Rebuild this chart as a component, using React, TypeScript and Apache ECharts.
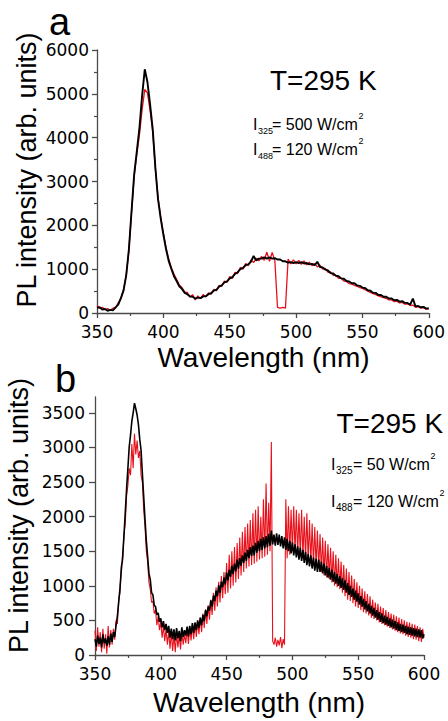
import React, { useEffect, useRef } from "react";
import * as echarts from "echarts";

// ---------- data ----------
// panel a: sampled every 2 nm
const wavelengthA: number[] = Array.from({ length: 126 }, (_, i) => 350 + 2 * i);
const blackA: number[] = [
  120, 130, 80, 90, 50, 70, 60, 130, 190, 340,
  510, 860, 1440, 2310, 3160, 3690, 4230, 4960, 5560, 5270,
  4760, 4190, 3310, 2590, 2160, 1790, 1460, 1190, 1010, 840,
  730, 610, 550, 460, 430, 380, 370, 330, 350, 340,
  380, 380, 430, 450, 510, 530, 600, 630, 700, 720,
  790, 820, 890, 930, 1000, 1030, 1090, 1110, 1170, 1300,
  1200, 1240, 1240, 1270, 1240, 1270, 1240, 1250, 1220, 1220,
  1180, 1180, 1150, 1160, 1140, 1160, 1140, 1160, 1130, 1140,
  1110, 1120, 1090, 1170, 1050, 1040, 990, 970, 910, 900,
  850, 840, 790, 780, 730, 720, 680, 680, 630, 620,
  580, 570, 520, 510, 460, 460, 410, 410, 370, 370,
  330, 330, 290, 300, 260, 270, 230, 230, 190, 330,
  150, 160, 130, 140, 100, 110,
];
const redA: number[] = [
  170, 110, 130, 80, 100, 60, 110, 120, 230, 330,
  540, 850, 1420, 2290, 3110, 3620, 4070, 4640, 5100, 5020,
  4620, 4130, 3280, 2630, 2190, 1830, 1490, 1240, 1040, 890,
  770, 640, 580, 480, 470, 360, 420, 300, 390, 330,
  420, 370, 460, 430, 540, 510, 630, 610, 730, 700,
  830, 790, 930, 900, 1040, 1000, 1130, 1080, 1210, 1150,
  1250, 1190, 1290, 1200, 1390, 1180, 1380, 1200, 130, 110,
  130, 110, 1230, 1120, 1210, 1120, 1200, 1110, 1190, 1100,
  1160, 1080, 1130, 1050, 1090, 1000, 1020, 930, 940, 860,
  860, 790, 790, 730, 720, 670, 660, 630, 610, 580,
  560, 530, 500, 470, 440, 420, 390, 370, 350, 330,
  300, 300, 260, 270, 230, 240, 200, 210, 170, 180,
  130, 150, 110, 120, 90, 90,
];

// panel b: sampled every 1 nm
const wavelengthB: number[] = Array.from({ length: 251 }, (_, i) => 350 + i);
const blackB: number[] = [
  230, 120, 280, 160, 250, 110, 300, 170, 240, 130,
  270, 150, 310, 190, 330, 260, 430, 560, 760, 970,
  1230, 1420, 1720, 2060, 2400, 2700, 3010, 3180, 3380, 3500,
  3640, 3560, 3470, 3330, 3120, 2960, 2620, 2290, 1960, 1650,
  1420, 1180, 1090, 900, 870, 720, 700, 580, 610, 480,
  530, 400, 490, 360, 450, 320, 420, 250, 380, 230,
  370, 210, 390, 240, 350, 200, 400, 260, 360, 280,
  410, 270, 420, 300, 460, 320, 470, 360, 500, 390,
  540, 430, 580, 490, 650, 560, 700, 640, 790, 700,
  860, 780, 930, 850, 1010, 900, 1060, 980, 1120, 1020,
  1190, 1080, 1230, 1130, 1290, 1170, 1320, 1210, 1380, 1250,
  1400, 1290, 1440, 1330, 1480, 1360, 1520, 1400, 1560, 1430,
  1580, 1440, 1620, 1480, 1650, 1500, 1680, 1520, 1700, 1540,
  1720, 1560, 1750, 1580, 1800, 1600, 1740, 1580, 1760, 1590,
  1740, 1570, 1720, 1540, 1700, 1520, 1680, 1500, 1650, 1470,
  1630, 1440, 1600, 1410, 1570, 1380, 1550, 1360, 1520, 1330,
  1490, 1300, 1460, 1280, 1440, 1250, 1410, 1220, 1390, 1200,
  1380, 1200, 1350, 1180, 1320, 1150, 1290, 1120, 1260, 1090,
  1230, 1060, 1200, 1030, 1170, 1000, 1140, 970, 1110, 940,
  1080, 900, 1040, 870, 1000, 840, 960, 800, 930, 770,
  890, 730, 850, 700, 810, 660, 780, 630, 740, 600,
  710, 570, 680, 540, 650, 510, 620, 480, 600, 460,
  570, 440, 550, 420, 530, 400, 510, 380, 490, 360,
  470, 350, 450, 330, 440, 320, 420, 300, 410, 290,
  400, 280, 390, 270, 380, 260, 370, 250, 360, 240,
  300,
];
const redB: number[] = [
  350, 60, 400, 120, 330, 40, 380, 90, 300, 20,
  420, 110, 360, 150, 380, 220, 500, 450, 800, 900,
  1300, 1350, 1750, 1900, 2300, 2450, 2700, 2600, 3050, 2700,
  3200, 2900, 3100, 2850, 2950, 2600, 2500, 2100, 1850, 1500,
  1350, 1050, 950, 760, 780, 600, 650, 430, 560, 360,
  480, 250, 420, 200, 380, 150, 340, 90, 330, 60,
  300, 40, 320, 110, 290, 80, 340, 150, 300, 170,
  380, 160, 400, 210, 430, 230, 460, 260, 490, 300,
  540, 330, 600, 390, 660, 450, 720, 510, 800, 580,
  900, 640, 980, 700, 1060, 760, 1140, 820, 1200, 880,
  1330, 900, 1450, 960, 1500, 1000, 1560, 1050, 1620, 1100,
  1700, 1150, 1780, 1200, 1850, 1250, 1900, 1280, 1950, 1300,
  2050, 1320, 2100, 1350, 2150, 1380, 2000, 1400, 2250, 1420,
  2480, 1450, 2200, 1500, 3080, 200, 150, 250, 120, 220,
  140, 260, 100, 230, 150, 2250, 1400, 2150, 1450, 2100,
  1500, 2150, 1480, 2100, 1450, 2050, 1420, 2100, 1400, 2000,
  1380, 2050, 1350, 1950, 1320, 1900, 1300, 1850, 1280, 1800,
  1250, 1750, 1200, 1700, 1150, 1650, 1120, 1600, 1100, 1550,
  1050, 1500, 1000, 1450, 980, 1400, 950, 1350, 900, 1300,
  850, 1250, 800, 1200, 780, 1150, 750, 1100, 700, 1050,
  680, 1000, 650, 960, 620, 920, 600, 880, 570, 850,
  540, 800, 520, 760, 500, 740, 470, 700, 450, 680,
  430, 650, 410, 620, 390, 600, 370, 580, 350, 560,
  330, 540, 310, 520, 300, 500, 280, 480, 260, 470,
  250, 450, 230, 440, 220, 420, 200, 400, 190, 380,
  250,
];

const xTicks: number[] = [350, 400, 450, 500, 550, 600];
const yTicksA: number[] = [0, 1000, 2000, 3000, 4000, 5000, 6000];
const yTicksB: number[] = [0, 500, 1000, 1500, 2000, 2500, 3000, 3500];

const pairs = (xs: number[], ys: number[]) => xs.map((x, i) => [x, ys[i]]);

export default function App() {
  const ref = useRef<HTMLDivElement>(null);

  useEffect(() => {
    if (!ref.current) return;
    const chart = echarts.init(ref.current, null, { renderer: "svg" });
    const axisColor = "#4a4a4a";
    const tickLabel = { fontFamily: "DejaVu Sans", fontSize: 17, color: "#000" };
    const RED = "#e8101a";
    const plain = (v: number) => String(v);

    const xAxis = (gridIndex: number) => ({
      type: "value",
      gridIndex,
      min: xTicks[0],
      max: xTicks[xTicks.length - 1],
      interval: 50,
      axisLine: { show: true, onZero: false, lineStyle: { color: axisColor, width: 1.3 } },
      axisTick: { show: true, length: 5, lineStyle: { color: axisColor, width: 1.3 } },
      minorTick: { show: true, splitNumber: 2, length: 3, lineStyle: { color: axisColor, width: 1.2 } },
      axisLabel: { ...tickLabel, margin: 10, formatter: plain },
      splitLine: { show: false },
    });

    const txt = (text: string, x: number, y: number, size: number, extra: any = {}) => ({
      type: "text",
      x,
      y,
      silent: true,
      ...(extra.rotation ? { rotation: extra.rotation } : {}),
      style: {
        text,
        fontFamily: extra.family || "Liberation Sans",
        fontSize: size,
        fill: "#000",
        textAlign: extra.align || "left",
        textVerticalAlign: "middle",
        align: extra.align || "left",
        verticalAlign: "middle",
      },
    });

    chart.setOption({
      animation: false,
      backgroundColor: "#fff",
      grid: [
        { left: 97, top: 50, width: 334, height: 263, containLabel: false },
        { left: 95, top: 397, width: 329, height: 258, containLabel: false },
      ],
      xAxis: [xAxis(0), xAxis(1)],
      yAxis: [
        {
          type: "value",
          gridIndex: 0,
          min: yTicksA[0],
          max: yTicksA[yTicksA.length - 1],
          interval: 1000,
          axisLine: { show: true, lineStyle: { color: axisColor, width: 1.3 } },
          axisTick: { show: true, length: 5, lineStyle: { color: axisColor, width: 1.3 } },
          minorTick: { show: true, splitNumber: 2, length: 3, lineStyle: { color: axisColor, width: 1.2 } },
          axisLabel: { ...tickLabel, margin: 8, formatter: plain },
          splitLine: { show: false },
        },
        {
          type: "value",
          gridIndex: 1,
          min: 0,
          max: 3730,
          interval: 500,
          axisLine: { show: true, lineStyle: { color: axisColor, width: 1.3 } },
          axisTick: { show: true, length: 6, customValues: yTicksB, lineStyle: { color: axisColor, width: 1.3 } },
          axisLabel: {
            ...tickLabel,
            margin: 10,
            customValues: yTicksB,
            formatter: (v: number) => (v % 500 === 0 ? String(v) : ""),
          },
          splitLine: { show: false },
        },
      ],
      series: [
        {
          type: "line", xAxisIndex: 0, yAxisIndex: 0, data: pairs(wavelengthA, redA),
          symbol: "none", silent: true, lineStyle: { color: RED, width: 1.3 },
        },
        {
          type: "line", xAxisIndex: 0, yAxisIndex: 0, data: pairs(wavelengthA, blackA),
          symbol: "none", silent: true, lineStyle: { color: "#000", width: 1.9 },
        },
        {
          type: "line", xAxisIndex: 1, yAxisIndex: 1, data: pairs(wavelengthB, redB),
          symbol: "none", silent: true, lineStyle: { color: RED, width: 1.1 },
        },
        {
          type: "line", xAxisIndex: 1, yAxisIndex: 1, data: pairs(wavelengthB, blackB),
          symbol: "none", silent: true, lineStyle: { color: "#000", width: 1.6 },
        },
      ],
      graphic: [
        txt("a", 49, 22, 38),
        txt("b", 55, 379, 38),
        // axis names
        txt("Wavelength (nm)", 263.5, 357, 28, { align: "center" }),
        txt("Wavelength (nm)", 259, 702, 28, { align: "center" }),
        txt("PL intensity (arb. units)", 27.3, 170, 27, { align: "center", rotation: Math.PI / 2 }),
        txt("PL intensity (arb. units)", 19, 515.5, 27, { align: "center", rotation: Math.PI / 2 }),
        // panel a annotation
        txt("T=295 K", 270, 80.3, 28),
        txt("I", 253, 124.5, 16),
        txt("325", 258, 130.6, 9),
        txt("= 500 W/cm", 272, 124.5, 16),
        txt("2", 358.5, 116, 9),
        txt("I", 253, 149.5, 16),
        txt("488", 258, 155.6, 9),
        txt("= 120 W/cm", 272, 149.5, 16),
        txt("2", 358.5, 141, 9),
        // panel b annotation
        txt("T=295 K", 336.5, 423, 28),
        txt("I", 331, 464.5, 16),
        txt("325", 336, 470.6, 10),
        txt("= 50 W/cm", 353, 464.5, 16),
        txt("2", 430.5, 456, 9),
        txt("I", 331, 501, 16),
        txt("488", 336, 507, 10),
        txt("= 120 W/cm", 353, 501, 16),
        txt("2", 439.5, 492.5, 9),
      ],
    });

    return () => chart.dispose();
  }, []);

  return (
    <div
      ref={ref}
      style={{ position: "absolute", left: 0, top: 0, width: 448, height: 721, background: "#fff" }}
    />
  );
}
